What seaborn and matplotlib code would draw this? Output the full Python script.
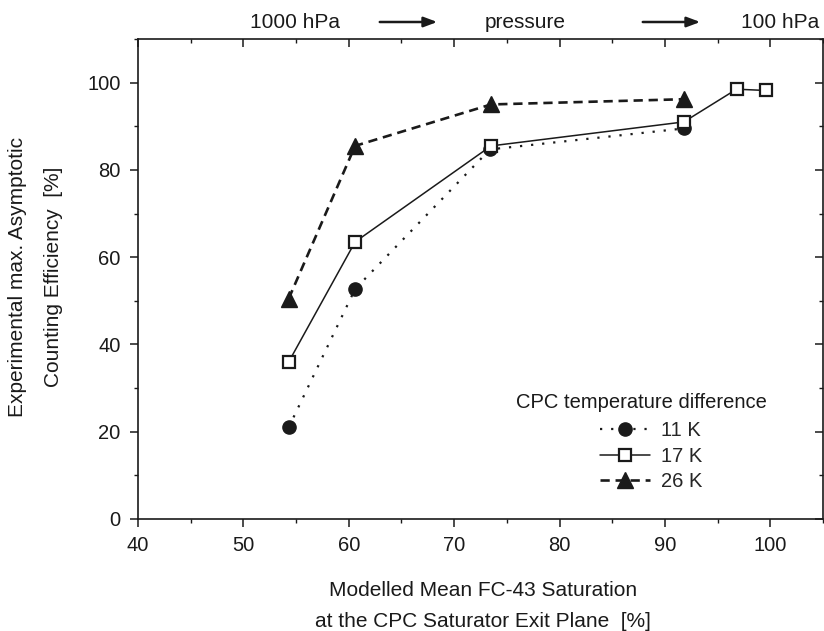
import matplotlib
matplotlib.use("Agg")
import matplotlib.pyplot as plt
import matplotlib.patches as mpatches
import seaborn as sns
import pandas as pd
from matplotlib.ticker import MultipleLocator
from matplotlib.lines import Line2D

sns.set_theme(style="ticks")
plt.rcParams['font.family'] = ['Liberation Sans', 'DejaVu Sans']

x_11 = [54.3, 60.6, 73.4, 91.8]
y_11 = [21.0, 52.7, 84.7, 89.5]
x_17 = [54.3, 60.6, 73.5, 91.8, 96.8, 99.6]
y_17 = [36.0, 63.5, 85.5, 91.0, 98.5, 98.2]
x_26 = [54.3, 60.6, 73.5, 91.8]
y_26 = [50.5, 85.5, 95.0, 96.2]
labels = ["11 K", "17 K", "26 K"]
legend_title = "CPC temperature difference"

FS = 15
FST = 14.5
W, H = 824, 631
fig = plt.figure(figsize=(W / 100, H / 100), dpi=100)
ax = fig.add_axes([138 / W, 1 - 519 / H, (823 - 138) / W, (519 - 39) / H])

black = "#1a1a1a"
styles = [
    dict(ls=(0, (1, 4)), lw=1.6, marker="o", ms=9.5, mfc=black, mec=black, mew=1.0),
    dict(ls="-", lw=1.1, marker="s", ms=8.6, mfc="white", mec=black, mew=1.6),
    dict(ls=(0, (3.5, 2.2)), lw=1.9, marker="^", ms=11, mfc=black, mec=black, mew=1.0),
]
for xs, ys, st in zip([x_11, x_17, x_26], [y_11, y_17, y_26], styles):
    df = pd.DataFrame({"x": xs, "y": ys})
    sns.lineplot(data=df, x="x", y="y", ax=ax, color=black, sort=False,
                 linestyle=st["ls"], linewidth=st["lw"], marker=st["marker"],
                 markersize=st["ms"], markerfacecolor=st["mfc"],
                 markeredgecolor=st["mec"], markeredgewidth=st["mew"])

ax.set_xlim(40, 105)
ax.set_ylim(0, 110)
ax.xaxis.set_major_locator(MultipleLocator(10))
ax.xaxis.set_minor_locator(MultipleLocator(5))
ax.yaxis.set_major_locator(MultipleLocator(20))
ax.yaxis.set_minor_locator(MultipleLocator(10))
for s in ax.spines.values():
    s.set_visible(True)
    s.set_color(black)
    s.set_linewidth(1.2)
ax.tick_params(axis="both", which="major", direction="out", length=6, width=1.1,
               labelsize=FST, colors=black, pad=6.5)
ax.tick_params(axis="both", which="minor", direction="out", length=3, width=1.0, colors=black)
ax.tick_params(top=True, right=True, which="both")
# top/right ticks point inward
for t in ax.xaxis.get_major_ticks() + ax.xaxis.get_minor_ticks():
    t.tick2line.set_marker(3)
for t in ax.yaxis.get_major_ticks() + ax.yaxis.get_minor_ticks():
    t.tick2line.set_marker(0)

ax.set_xlabel("")
ax.set_ylabel("")
fig.text(483 / W, 1 - 606 / H,
         "Modelled Mean FC-43 Saturation\nat the CPC Saturator Exit Plane  [%]",
         ha="center", va="center", fontsize=FS, color=black, linespacing=1.75)
fig.text(35.5 / W, 1 - 277 / H,
         "Experimental max. Asymptotic\nCounting Efficiency  [%]",
         ha="center", va="center", rotation=90, fontsize=FS, color=black, linespacing=2.15)

# top annotation
yt = 1 - 22 / H
fig.text(295 / W, yt, "1000 hPa", ha="center", va="center", fontsize=FS, color=black)
fig.text(525 / W, yt, "pressure", ha="center", va="center", fontsize=FS, color=black)
fig.text(780 / W, yt, "100 hPa", ha="center", va="center", fontsize=FS, color=black)
for x0, x1 in [(377, 440), (640, 703)]:
    fig.add_artist(mpatches.FancyArrowPatch(
        (x0 / W, yt), (x1 / W, yt), transform=fig.transFigure,
        arrowstyle="-|>,head_length=8,head_width=3", color=black, lw=1.8,
        mutation_scale=1))

# legend
fig.text(641 / W, 1 - 402 / H, legend_title, ha="center", va="center",
         fontsize=FST, color=black)
handles = [Line2D([], [], color=black, linestyle=st["ls"], linewidth=st["lw"],
                  marker=st["marker"], markersize=st["ms"], markerfacecolor=st["mfc"],
                  markeredgecolor=st["mec"], markeredgewidth=st["mew"])
           for st in styles]
leg = ax.legend(handles, labels, loc="upper left",
                bbox_to_anchor=((600 - 138) / 685, (519 - 421) / 480), frameon=False,
                fontsize=FST, handlelength=2.5, handletextpad=0.55,
                labelspacing=0.33, borderpad=0.0, borderaxespad=0.0)

fig.savefig("out.png", dpi=100)
